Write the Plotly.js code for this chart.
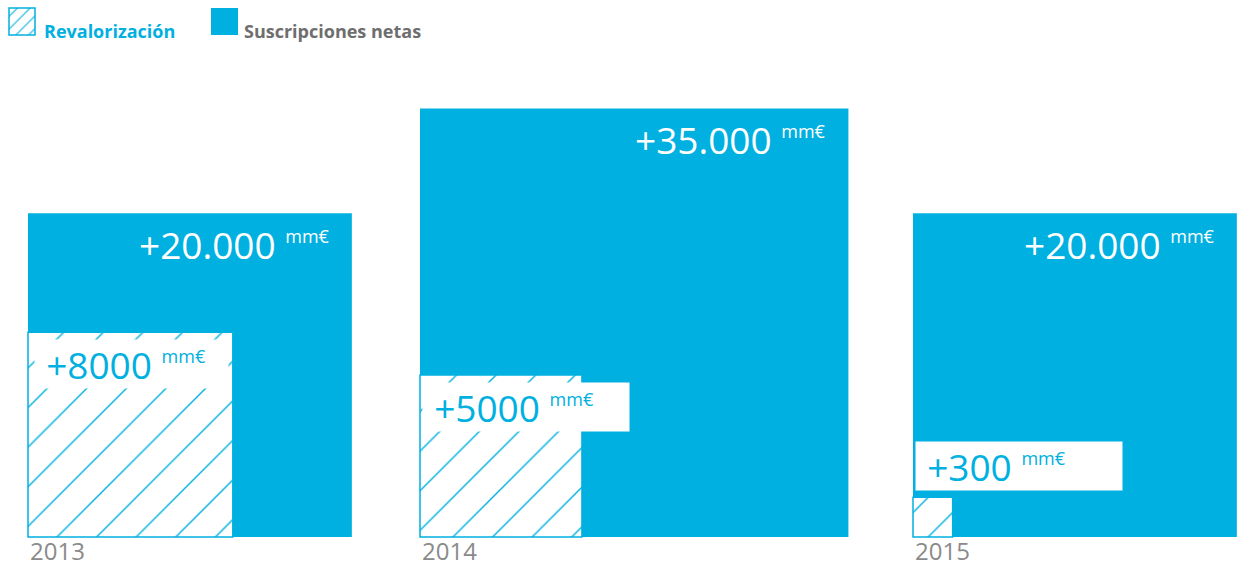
<!DOCTYPE html>
<html>
<head>
<meta charset="utf-8">
<script src="https://cdn.plot.ly/plotly-3.0.1.min.js"></script>
<style>html,body{margin:0;padding:0;background:#fff;}#chart{width:1243px;height:568px;}</style>
</head>
<body>
<div id="chart"></div>
<script>
// ---- data ----
const years = ['2013', '2014', '2015'];
const suscripciones = [20000, 35000, 20000];   // Suscripciones netas (mm€)
const revalorizacion = [8000, 5000, 300];      // Revalorización (mm€)
const seriesNames = ['Revalorización', 'Suscripciones netas'];
const unit = 'mm€';

// ---- layout constants ----
const W = 1243, H = 568;
const BLUE = '#00b0e0';
const GREY = '#6e6e6e';
const FONT = 'Open Sans, Noto Sans, sans-serif';
const groupLeft = [28, 420, 913];
const baseY = 31;          // baseline (from bottom, px)
const k = 2.29;            // px per sqrt(mm€)  -> area proportional squares
const side = v => k * Math.sqrt(v);
const fmt = v => v >= 10000 ? String(v).replace(/\B(?=(\d{3})+(?!\d))/g, '.') : String(v);

const sSides = suscripciones.map(side);
const rSides = revalorizacion.map(side);

const traces = [
  { type: 'bar', x: groupLeft.map((l, i) => l + sSides[i] / 2), y: sSides, width: sSides, base: baseY,
    marker: { color: BLUE, line: { width: 0 } }, hoverinfo: 'skip', name: seriesNames[1] },
  { type: 'bar', x: groupLeft.map((l, i) => l + rSides[i] / 2), y: rSides, width: rSides, base: baseY,
    marker: { color: 'white', line: { color: BLUE, width: 1.5 },
      pattern: { shape: '/', fgcolor: BLUE, bgcolor: 'white', size: 28, solidity: 0.05 } },
    hoverinfo: 'skip', name: seriesNames[0] },
  // legend icons
  { type: 'bar', x: [22], y: [27], width: [26], base: H - 35,
    marker: { color: 'white', line: { color: BLUE, width: 1.5 },
      pattern: { shape: '/', fgcolor: BLUE, bgcolor: 'white', size: 9, solidity: 0.12 } }, hoverinfo: 'skip' },
  { type: 'bar', x: [224.5], y: [27], width: [27], base: H - 35,
    marker: { color: BLUE, line: { width: 0 } }, hoverinfo: 'skip' }
];

const supUnit = '<sup><span style="font-size:18px">' + unit + '</span></sup>';
const annotations = [];

years.forEach((yr, i) => {
  const l = groupLeft[i];
  const s = sSides[i], r = rSides[i];
  // big label (top-right of blue square)
  annotations.push({ x: l + s - 20, y: baseY + s - 31, xref: 'x', yref: 'y', xanchor: 'right', yanchor: 'middle',
    text: '+' + fmt(suscripciones[i]) + ' ' + supUnit, showarrow: false,
    font: { family: FONT, size: 37, color: 'white' } });
  // small label (white box) — inside the hatched square when it is large, above it when it is tiny
  const inside = r > 100;
  const fits = r > 190;
  const ly = inside ? baseY + r - 32 : baseY + r + 31;
  const boxW = fits ? r - 22 : 196;
  const bx = fits ? l + 6 : l + 2;
  annotations.push({ x: bx, y: ly, xref: 'x', yref: 'y', xanchor: 'left', yanchor: 'middle',
    text: '\u2009' + '+' + fmt(revalorizacion[i]) + ' ' + supUnit, showarrow: false, align: 'left',
    bgcolor: 'white', width: boxW, height: 38, borderpad: 5,
    font: { family: FONT, size: 37, color: BLUE } });
  // year
  annotations.push({ x: l + 1, y: 0, yshift: 0, xref: 'x', yref: 'y', xanchor: 'left', yanchor: 'bottom',
    borderpad: 0, text: yr, showarrow: false, font: { family: FONT, size: 24, color: '#8a8a8a' } });
});

// legend texts
annotations.push({ x: 42, y: H - 31, xref: 'x', yref: 'y', xanchor: 'left', yanchor: 'middle', showarrow: false,
  text: seriesNames[0], font: { family: FONT, size: 18, color: BLUE, weight: 700 } });
annotations.push({ x: 242, y: H - 31, xref: 'x', yref: 'y', xanchor: 'left', yanchor: 'middle', showarrow: false,
  text: seriesNames[1], font: { family: FONT, size: 18, color: GREY, weight: 700 } });

const layout = {
  width: W, height: H,
  margin: { l: 0, r: 0, t: 0, b: 0, pad: 0 },
  paper_bgcolor: 'white', plot_bgcolor: 'white',
  barmode: 'overlay', showlegend: false,
  xaxis: { range: [0, W], visible: false, fixedrange: true },
  yaxis: { range: [0, H], visible: false, fixedrange: true },
  annotations: annotations
};

Plotly.newPlot('chart', traces, layout, { displayModeBar: false, staticPlot: true });
</script>
</body>
</html>
